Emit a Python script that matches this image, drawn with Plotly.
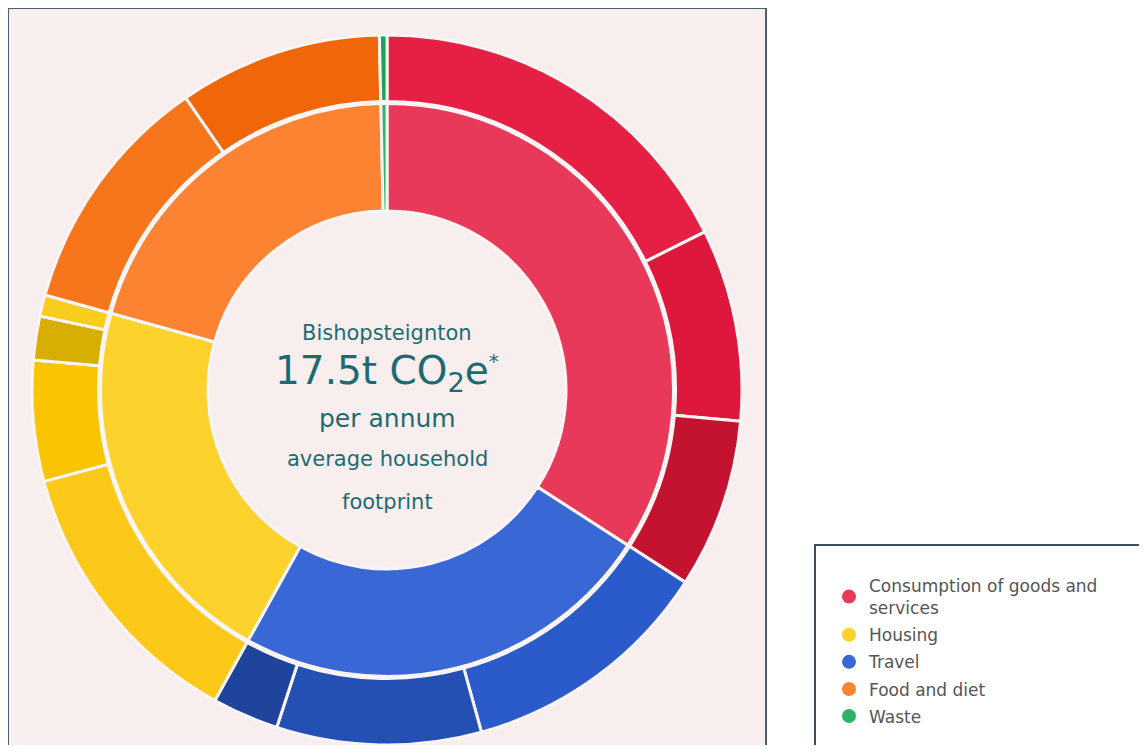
import plotly.graph_objects as go

W, H = 1147, 753          # browser window
OFF = 8                   # default body margin of the html page
PW, PH = W - 2 * OFF, H - 2 * OFF

# ---------------- data ----------------
categories = ["Consumption of goods and services", "Travel", "Housing", "Food and diet", "Waste"]
legend_order = ["Consumption of goods and services", "Housing", "Travel", "Food and diet", "Waste"]

consumption_sub = [3.09, 1.53, 1.35]
travel_sub = [2.03, 1.63, 0.53]
housing_sub = [2.24, 0.96, 0.35, 0.17]
food_sub = [1.94, 1.62]
waste_sub = [0.06]

consumption_names = ["Goods", "Services", "Other consumption"]
travel_names = ["Car", "Flights", "Public transport"]
housing_names = ["Heating", "Electricity", "Other fuels", "Water"]
food_names = ["Food", "Drink"]
waste_names = ["Household waste"]

inner_colors = ["#e8395b", "#3968d6", "#fdd22c", "#fb8332", "#2bb36a"]
consumption_colors = ["#e61f45", "#de173d", "#c41231"]
travel_colors = ["#2b5bcb", "#2450b3", "#1f449c"]
housing_colors = ["#fcc81a", "#f9c501", "#d8ae02", "#f8cd1e"]
food_colors = ["#f8761b", "#f0670a"]
waste_colors = ["#1ea25a"]
legend_colors = {"Consumption of goods and services": "#e8395b", "Housing": "#fdd22c",
                 "Travel": "#3968d6", "Food and diet": "#fb8332", "Waste": "#2bb36a"}

place = "Bishopsteignton"
total_text = "17.5t CO<sub>2</sub>e<sup><span style='font-size:20px'>*</span></sup>"

# ---------------- build ----------------
subs = [consumption_sub, travel_sub, housing_sub, food_sub, waste_sub]
sub_names = [consumption_names, travel_names, housing_names, food_names, waste_names]
sub_colors = [consumption_colors, travel_colors, housing_colors, food_colors, waste_colors]
inner_values = [round(sum(s), 2) for s in subs]
outer_values = [v for s in subs for v in s]
outer_labels = [n for s in sub_names for n in s]
outer_colors = [c for s in sub_colors for c in s]


def px(x):
    return (x - OFF) / PW


def py(y):
    return 1 - (y - OFF) / PH


cx, cy = 387, 390
R_out, R_out_in = 355, 288.5
R_in, R_hole = 286.5, 179


def dom(r):
    return dict(x=[px(cx - r), px(cx + r)], y=[py(cy + r), py(cy - r)])


sep = dict(color="#fbf4f4", width=3)

fig = go.Figure()
fig.add_trace(go.Pie(values=outer_values, labels=outer_labels, domain=dom(R_out),
                     hole=R_out_in / R_out, sort=False, direction="clockwise", rotation=0,
                     marker=dict(colors=outer_colors, line=sep), textinfo="none",
                     showlegend=False, hoverinfo="label+value"))
fig.add_trace(go.Pie(values=inner_values, labels=categories, domain=dom(R_in),
                     hole=R_hole / R_in, sort=False, direction="clockwise", rotation=0,
                     marker=dict(colors=inner_colors, line=sep), textinfo="none",
                     showlegend=False, hoverinfo="label+value"))

for name in legend_order:
    disp = name.replace("goods and services", "goods and<br>services")
    fig.add_trace(go.Scatter(x=[None], y=[None], mode="markers", name=disp, legendgroup=name,
                             marker=dict(size=14, color=legend_colors[name], symbol="circle")))

shapes = [
    dict(type="rect", xref="paper", yref="paper", x0=px(8), x1=px(766), y0=py(770), y1=py(8),
         fillcolor="#f8eeee", line=dict(color="#4d5d73", width=2), layer="below"),
    dict(type="rect", xref="paper", yref="paper", x0=px(815), x1=px(1160), y0=py(770), y1=py(545),
         fillcolor="#ffffff", line=dict(color="#3f4d60", width=2), layer="below"),
]

tc = "#1d6b72"
font_family = "DejaVu Sans, Verdana, sans-serif"
texts = [
    (place, 333, 21),
    (total_text, 373, 39),
    ("per annum", 418, 25),
    ("average household", 459, 21),
    ("footprint", 502, 21),
]
fig.update_layout(
    annotations=[dict(text=t, x=px(cx), y=py(y), xref="paper", yref="paper",
                      showarrow=False, xanchor="center", yanchor="middle",
                      font=dict(size=s, color=tc, family=font_family)) for t, y, s in texts],
    shapes=shapes,
    width=PW, height=PH,
    margin=dict(l=0, r=0, t=0, b=0),
    paper_bgcolor="#ffffff", plot_bgcolor="rgba(0,0,0,0)",
    xaxis=dict(visible=False), yaxis=dict(visible=False),
    legend=dict(x=px(829), y=py(568), xanchor="left", yanchor="top",
                font=dict(size=17, color="#555555", family=font_family),
                bgcolor="rgba(0,0,0,0)", itemsizing="trace", tracegroupgap=2),
)

fig.write_html("out.html")
